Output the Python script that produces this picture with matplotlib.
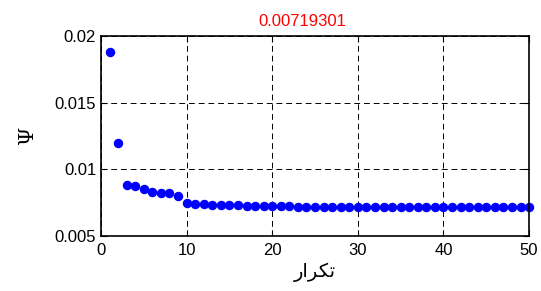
import numpy as np
import matplotlib.pyplot as plt

plt.rcParams['font.family'] = ['Liberation Sans', 'DejaVu Sans']

# iteration vs objective value
iters = np.arange(1, 51)
psi = [0.0188, 0.0120, 0.00882, 0.00878, 0.00850, 0.00828, 0.00826, 0.00820,
       0.00800, 0.00745, 0.00742, 0.00740, 0.00735, 0.00733, 0.00732, 0.00730,
       0.00728, 0.00727, 0.00726, 0.00725, 0.00724, 0.00722, 0.00721, 0.00721,
       0.00720, 0.00720, 0.00720, 0.00720, 0.00720, 0.00720, 0.00720, 0.00720,
       0.00720, 0.00720, 0.00720, 0.00720, 0.00720, 0.00720, 0.00720, 0.00720,
       0.00720, 0.00720, 0.00720, 0.00720, 0.00720, 0.00720, 0.00720, 0.00720,
       0.00719, 0.00719301]
title_txt = '0.00719301'
xticks = [0, 10, 20, 30, 40, 50]
yticks = [0.005, 0.01, 0.015, 0.02]
ytick_labels = ['0.005', '0.01', '0.015', '0.02']
# "tekrar" (iteration), written with shaped presentation forms in visual order
xlabel_txt = '\u0631\u0627\ufeae\ufb91\ufe97'

fig = plt.figure(figsize=(5.41, 2.91), dpi=100)
ax = fig.add_axes([0.1867, 0.189, 0.7913, 0.687])

ax.plot(iters, psi, 'o', color=(0, 0, 1), ms=5.8, mec=(0, 0, 1), clip_on=False)

ax.set_xlim(0, 50)
ax.set_ylim(0.005, 0.02)
ax.set_xticks(xticks)
ax.set_yticks(yticks)
ax.set_yticklabels(ytick_labels)
ax.tick_params(direction='in', top=True, right=True, labelsize=12,
               length=4, width=0.8)
ax.tick_params(axis='x', pad=5)
ax.grid(True, color='black', linestyle=(0, (6, 4)), linewidth=0.7)
for s in ax.spines.values():
    s.set_linewidth(1.2)

ax.set_title(title_txt, color='red', fontsize=12, pad=7, x=0.47)
ax.set_ylabel('\u03a8', family=['DejaVu Serif'], fontsize=15, labelpad=13)
ax.set_xlabel(xlabel_txt, family=['DejaVu Sans'], fontsize=14, labelpad=3)

fig.savefig('out.png', dpi=100)
